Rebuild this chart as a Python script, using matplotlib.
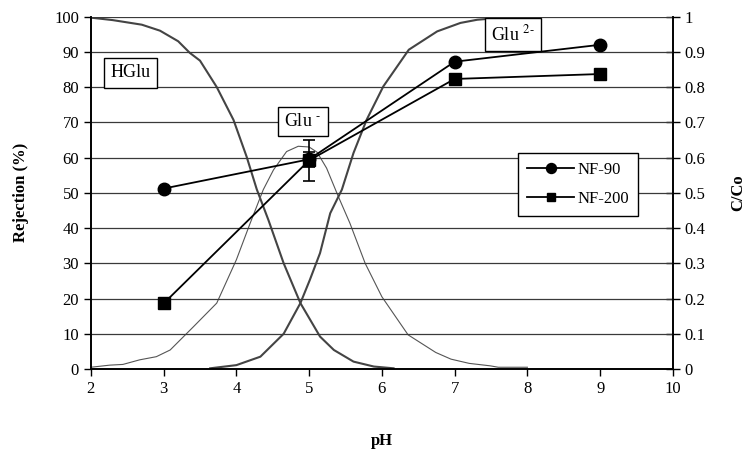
import numpy as np
import matplotlib
matplotlib.use("Agg")
import matplotlib.pyplot as plt

plt.rcParams['font.family'] = ['Liberation Serif', 'DejaVu Serif']
plt.rcParams['mathtext.fontset'] = 'stix'

# membrane rejection data
ph = [3, 5, 7, 9]
nf90 = [51.2, 59.5, 87.2, 92.0]
nf200 = [18.6, 59.2, 82.3, 83.7]
err_ph = [5]
nf90_err = [2.2]
nf200_err = [5.8]

# species distribution curves (C/Co)
hglu_ph = [2.0, 2.3, 2.7, 2.95, 3.2, 3.36, 3.5, 3.73, 3.96, 4.14, 4.28, 4.44,
           4.65, 4.88, 5.15, 5.34, 5.61, 5.89, 6.16]
hglu = [0.997, 0.99, 0.977, 0.96, 0.93, 0.897, 0.875, 0.80, 0.707, 0.603, 0.51,
        0.423, 0.30, 0.187, 0.092, 0.054, 0.021, 0.007, 0.002]

glu1_ph = [2.0, 2.26, 2.44, 2.67, 2.9, 3.09, 3.41, 3.73, 4.0, 4.19, 4.37, 4.51,
           4.69, 4.85, 5.0, 5.11, 5.24, 5.4, 5.56, 5.77, 6.0, 6.36, 6.74, 6.95,
           7.2, 7.49, 7.6, 8.0]
glu1 = [0.005, 0.011, 0.013, 0.026, 0.035, 0.054, 0.12, 0.187, 0.31, 0.414, 0.509,
        0.565, 0.617, 0.632, 0.63, 0.615, 0.57, 0.49, 0.414, 0.30, 0.205, 0.097,
        0.047, 0.028, 0.016, 0.009, 0.005, 0.005]

glu2_ph = [3.64, 4.0, 4.33, 4.65, 4.88, 5.01, 5.15, 5.29, 5.45, 5.61, 5.79, 6.02,
           6.37, 6.76, 7.08, 7.31, 7.6, 8.0]
glu2 = [0.002, 0.011, 0.035, 0.10, 0.187, 0.253, 0.329, 0.442, 0.509, 0.613, 0.707,
        0.802, 0.906, 0.958, 0.982, 0.991, 0.996, 0.998]

fig = plt.figure(figsize=(7.51, 4.53), dpi=100)
ax = fig.add_axes([0.121, 0.1854, 0.775, 0.778])
ax2 = ax.twinx()

curve_col = '#444444'
ax2.plot(hglu_ph, hglu, color=curve_col, lw=1.5)
ax2.plot(glu1_ph, glu1, color='#555555', lw=0.8)
ax2.plot(glu2_ph, glu2, color=curve_col, lw=1.5)
ax2.set_ylim(0, 1)
ax2.set_yticks(np.arange(0, 1.01, 0.1))
ax2.set_yticklabels(['0', '0.1', '0.2', '0.3', '0.4', '0.5', '0.6', '0.7', '0.8', '0.9', '1'])
ax2.set_ylabel('C/Co', fontsize=12, fontweight='bold', labelpad=18)

ax.set_zorder(ax2.get_zorder() + 1)
ax.patch.set_visible(False)

ax.errorbar(err_ph, [nf200[1]], yerr=nf200_err, fmt='none', ecolor='black',
            elinewidth=1.2, capsize=4, capthick=1.2)
ax.errorbar(err_ph, [nf90[1]], yerr=nf90_err, fmt='none', ecolor='black',
            elinewidth=1.2, capsize=4, capthick=1.2)
ax.plot(ph, nf90, color='black', lw=1.3, marker='o', ms=9, label='NF-90')
ax.plot(ph, nf200, color='black', lw=1.3, marker='s', ms=8, label='NF-200')

ax.set_xlim(2, 10)
ax.set_ylim(0, 100)
ax.set_yticks(np.arange(0, 101, 10))
ax.set_xticks(np.arange(2, 11, 1))
ax.grid(axis='y', color='#3a3a3a', lw=0.9)
ax.set_axisbelow(True)
ax.set_xlabel('pH', fontsize=12, fontweight='bold', labelpad=26)
ax.set_ylabel('Rejection (%)', fontsize=12, fontweight='bold', labelpad=18)

for a in (ax, ax2):
    a.spines['top'].set_visible(False)
    a.tick_params(labelsize=12, direction='out', length=5, width=1)
    for s in a.spines.values():
        s.set_linewidth(1.2)
ax2.tick_params(axis='y', direction='inout', length=10)

box = dict(boxstyle='square,pad=0.35', fc='white', ec='black', lw=1)
ax.text(2.54, 84, 'HGlu', fontsize=13, ha='center', va='center', bbox=box)
ax.text(4.91, 70.2, 'Glu $^{\u2010}$', fontsize=13, ha='center', va='center', bbox=box)
ax.text(7.8, 94.9, 'Glu $^{2\u2010}$', fontsize=13, ha='center', va='center', bbox=box)

leg = ax.legend(loc='upper left', bbox_to_anchor=(0.72, 0.637), fontsize=12,
                frameon=True, fancybox=False, edgecolor='black', handlelength=2.8,
                borderpad=0.55, labelspacing=0.75, handletextpad=0.2,
                markerscale=0.8)
leg.get_frame().set_linewidth(1)
leg.get_frame().set_alpha(1)

fig.savefig('out.png', dpi=100)
